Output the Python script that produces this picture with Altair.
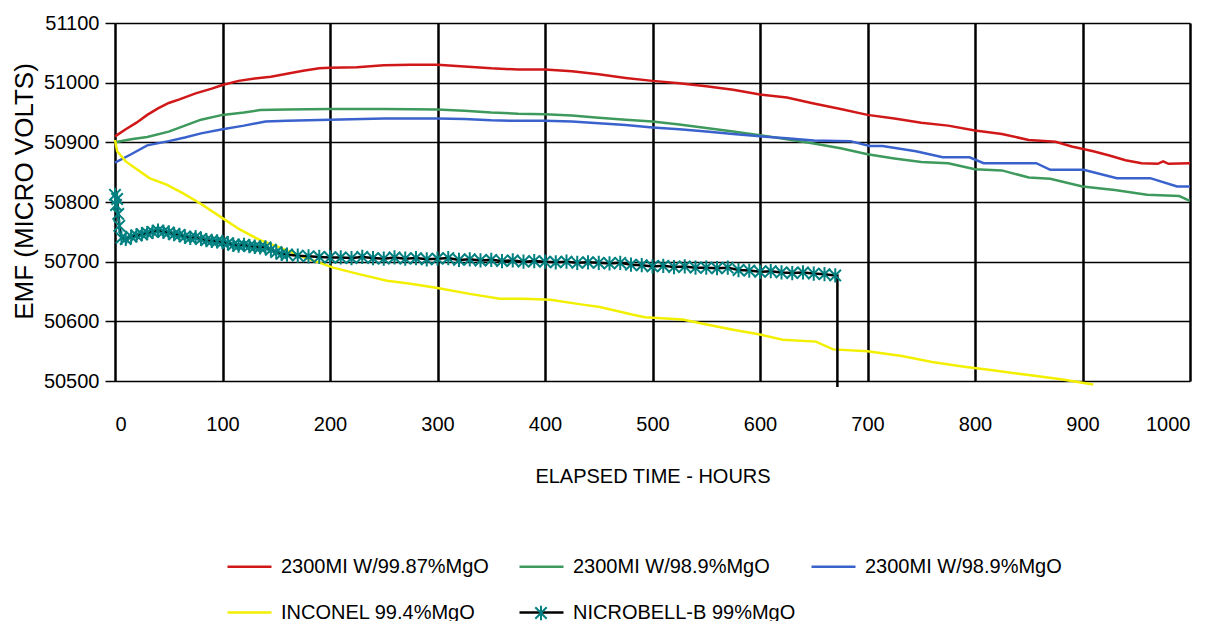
import altair as alt
import pandas as pd

FONT = "Liberation Sans, Arial, sans-serif"

series_names = [
    "2300MI W/99.87%MgO",
    "2300MI W/98.9%MgO",
    "2300MI W/98.9%MgO ",
    "INCONEL  99.4%MgO",
    "NICROBELL-B 99%MgO",
]
series_colors = ["#D01818", "#3E9A5C", "#3A62CC", "#F2F000", "#000000"]

red_h = [0, 10, 20, 30, 40, 50, 60, 75, 90, 100, 115, 130, 145, 160, 175, 190, 200, 225, 250, 275, 300,
         325, 350, 375, 400, 425, 450, 475, 500, 525, 550, 575, 600, 625, 650, 675, 700, 725, 750, 775,
         800, 825, 850, 875, 890, 910, 925, 940, 955, 970, 975, 980, 1000]
red_v = [50910, 50922, 50933, 50946, 50957, 50966, 50972, 50982, 50990, 50996, 51003, 51007, 51010, 51015,
         51020, 51024, 51025, 51026, 51029, 51030, 51030, 51027, 51024, 51022, 51022, 51019, 51014, 51008,
         51003, 50999, 50994, 50988, 50980, 50975, 50965, 50956, 50946, 50940, 50933, 50928, 50920, 50914,
         50904, 50901, 50893, 50885, 50878, 50870, 50865, 50864, 50868, 50864, 50865]

green_h = [0, 15, 30, 50, 65, 80, 100, 120, 135, 160, 200, 250, 300, 325, 350, 375, 400, 425, 450, 475, 500,
           525, 550, 575, 600, 625, 650, 675, 700, 725, 750, 775, 800, 825, 850, 870, 900, 930, 960, 990, 1000]
green_v = [50900, 50905, 50909, 50918, 50928, 50938, 50946, 50950, 50954, 50955, 50956, 50956, 50955, 50953,
           50950, 50948, 50947, 50945, 50941, 50938, 50935, 50930, 50924, 50918, 50912, 50905, 50898, 50890,
           50880, 50873, 50867, 50865, 50855, 50853, 50841, 50839, 50826, 50820, 50812, 50810, 50802]

blue_h = [0, 15, 30, 50, 65, 80, 100, 120, 140, 160, 200, 250, 300, 325, 350, 375, 400, 425, 450, 475, 500,
          525, 550, 575, 600, 625, 650, 684, 702, 714, 745, 770, 795, 808, 857, 870, 901, 932, 963, 988, 1000]
blue_v = [50866, 50880, 50895, 50902, 50908, 50915, 50922, 50928, 50935, 50936, 50938, 50940, 50940, 50939,
          50937, 50936, 50936, 50935, 50932, 50929, 50925, 50922, 50918, 50914, 50910, 50907, 50903, 50902,
          50894, 50894, 50885, 50875, 50875, 50865, 50865, 50854, 50854, 50840, 50840, 50826, 50826]

yellow_h = [0, 2, 10, 17, 32, 48, 63, 79, 100, 116, 134, 150, 175, 203, 225, 253, 275, 300, 330, 358, 380,
            405, 435, 451, 482, 493, 528, 547, 575, 600, 621, 652, 668, 700, 732, 760, 790, 820, 850, 880,
            900, 910]
yellow_v = [50904, 50885, 50868, 50859, 50840, 50829, 50815, 50798, 50773, 50754, 50737, 50726, 50708, 50690,
            50680, 50668, 50663, 50656, 50646, 50638, 50638, 50636, 50628, 50624, 50611, 50607, 50603, 50596,
            50586, 50578, 50569, 50566, 50553, 50550, 50542, 50532, 50524, 50517, 50510, 50503, 50497, 50494]

nicro_h = [0, 1, 2, 3, 4, 6, 10, 15, 20, 25, 30, 35, 40, 45, 50, 55, 60, 65, 70, 75, 80, 85, 90, 95, 100,
           105, 110, 115, 120, 125, 130, 135, 140, 145, 150, 155, 160, 170, 180, 190, 200, 210, 220, 230,
           240, 250, 260, 270, 280, 290, 300, 310, 320, 330, 340, 350, 360, 370, 380, 390, 400, 410, 420,
           430, 440, 450, 460, 470, 480, 490, 500, 510, 520, 530, 540, 550, 560, 570, 580, 590, 600, 610,
           620, 630, 640, 650, 660, 670]
nicro_v = [50812, 50795, 50805, 50780, 50760, 50740, 50738, 50742, 50744, 50746, 50748, 50750, 50752, 50750,
           50749, 50746, 50745, 50742, 50740, 50741, 50738, 50736, 50735, 50734, 50733, 50731, 50728, 50727,
           50728, 50726, 50725, 50724, 50724, 50720, 50716, 50713, 50712, 50710, 50709, 50708, 50707, 50707,
           50706, 50708, 50706, 50705, 50707, 50705, 50706, 50704, 50705, 50706, 50703, 50704, 50702, 50703,
           50701, 50702, 50700, 50701, 50700, 50699, 50700, 50698, 50699, 50698, 50697, 50698, 50695, 50694,
           50692, 50693, 50691, 50692, 50690, 50690, 50689, 50690, 50686, 50685, 50683, 50684, 50682, 50681,
           50682, 50680, 50679, 50677]
nicro_end_h = [672, 672]
nicro_end_v = [50677, 50490]

rows = []
for name, hs, vs in [
    (series_names[0], red_h, red_v),
    (series_names[1], green_h, green_v),
    (series_names[2], blue_h, blue_v),
    (series_names[3], yellow_h, yellow_v),
    (series_names[4], nicro_h + nicro_end_h, nicro_v + nicro_end_v),
]:
    for i, (h, v) in enumerate(zip(hs, vs)):
        rows.append({"series": name, "hours": h, "emf": v, "order": i})
lines_df = pd.DataFrame(rows)

stars_df = pd.DataFrame({"series": series_names[4], "hours": nicro_h, "emf": nicro_v})

star_path = "M-1,-1L1,1M-1,1L1,-1M0,-1.25L0,1.25"

x_enc = alt.X(
    "hours:Q",
    scale=alt.Scale(domain=[0, 1000], nice=False, zero=False),
    axis=alt.Axis(
        title="ELAPSED TIME - HOURS",
        values=list(range(0, 1001, 100)),
        format="d",
        grid=True, gridColor="#000000", gridWidth=2.5, gridOpacity=1,
        ticks=False, domain=False,
        labelFont=FONT, labelFontSize=20, labelColor="#000000", labelPadding=33,
        titleFont=FONT, titleFontSize=20, titleFontWeight="normal", titleColor="#000000",
        titlePadding=32,
    ),
)
y_enc = alt.Y(
    "emf:Q",
    scale=alt.Scale(domain=[50500, 51100], nice=False, zero=False),
    axis=alt.Axis(
        title="EMF (MICRO VOLTS)",
        values=list(range(50500, 51101, 100)),
        format="d",
        grid=True, gridColor="#000000", gridWidth=1.5, gridOpacity=1,
        ticks=True, tickSize=10, tickColor="#000000", tickWidth=1.5,
        domain=False,
        labelFont=FONT, labelFontSize=20, labelColor="#000000", labelPadding=6,
        titleFont=FONT, titleFontSize=26, titleFontWeight="normal", titleColor="#000000",
        titlePadding=6, titleY=168,
    ),
)

lines = alt.Chart(lines_df).mark_line(strokeWidth=2.5, clip=False).encode(
    x=x_enc,
    y=y_enc,
    order="order:Q",
    color=alt.Color(
        "series:N",
        scale=alt.Scale(domain=series_names, range=series_colors),
        legend=alt.Legend(
            title=None, orient="none", legendX=111, legendY=520, direction="horizontal",
            columns=3, symbolType="stroke", symbolSize=1936, symbolStrokeWidth=2.5,
            labelFont=FONT, labelFontSize=20, labelColor="#000000", labelLimit=400,
            labelOffset=8, columnPadding=10, rowPadding=12, gridAlign="all", padding=0,
        ),
    ),
)

stars = alt.Chart(stars_df).mark_point(
    shape=star_path, size=130, color="#008080", strokeWidth=2, filled=False, opacity=1
).encode(
    x="hours:Q",
    y="emf:Q",
    shape=alt.Shape(
        "series:N",
        scale=alt.Scale(domain=[series_names[4]], range=[star_path]),
        legend=alt.Legend(
            title=None, orient="none", legendX=419, legendY=583, padding=0,
            symbolStrokeColor="#008080", symbolStrokeWidth=2, symbolSize=130,
            symbolFillColor="transparent", labelOpacity=0, labelFontSize=1,
        ),
    ),
)

chart = (
    alt.layer(lines, stars)
    .resolve_legend(color="independent", shape="independent")
    .properties(
        width=1075,
        height=358,
        autosize=alt.AutoSizeParams(type="none"),
        padding={"left": 107, "top": 15, "right": 25, "bottom": 240},
        background="#ffffff",
    )
    .configure_view(stroke=None)
)

chart.save("out.html", embed_options={"renderer": "svg", "actions": False})
